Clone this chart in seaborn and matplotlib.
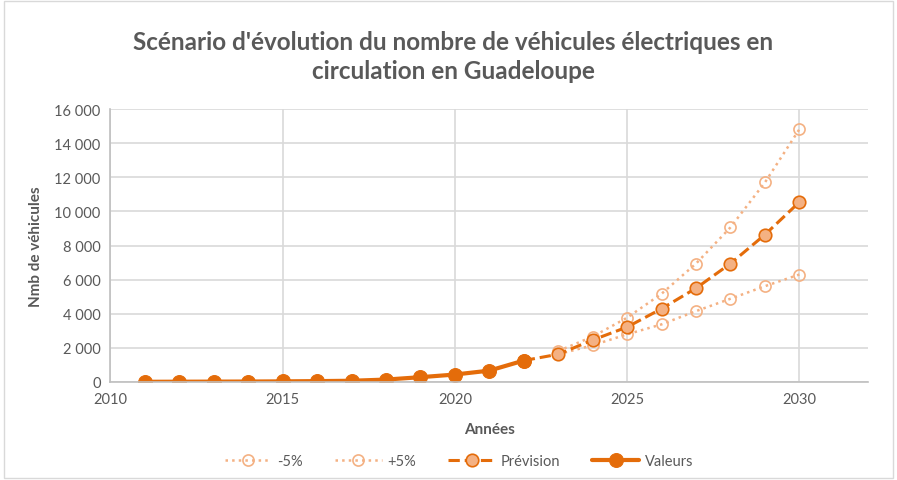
import pandas as pd
import matplotlib.pyplot as plt
import seaborn as sns
from matplotlib.ticker import FuncFormatter
from matplotlib.patches import Rectangle

annees_valeurs = list(range(2011, 2023))
valeurs = [5, 10, 15, 20, 30, 45, 65, 135, 275, 430, 660, 1250]

annees_prev = list(range(2022, 2031))
prevision = [1250, 1620, 2455, 3216, 4292, 5497, 6941, 8637, 10550]

annees_scen = list(range(2023, 2031))
moins5 = [1620, 2146, 2790, 3374, 4152, 4877, 5614, 6298]
plus5 = [1810, 2655, 3766, 5170, 6940, 9065, 11700, 14820]

sns.set_theme(style="whitegrid")
plt.rcParams['font.family'] = ['Lato', 'DejaVu Sans']

fig = plt.figure(figsize=(8.97, 4.81), dpi=100)
ax = fig.add_axes([0.123, 0.204, 0.845, 0.567])

dark = "#E46C0A"
light = "#F4B183"
grey = "#595959"

sns.lineplot(x=annees_scen, y=moins5, ax=ax, color=light, linestyle=":", linewidth=1.8,
             marker="o", markersize=8, markerfacecolor="none", markeredgecolor=light,
             markeredgewidth=1.2, label="-5%")
sns.lineplot(x=annees_scen, y=plus5, ax=ax, color=light, linestyle=":", linewidth=1.8,
             marker="o", markersize=8, markerfacecolor="none", markeredgecolor=light,
             markeredgewidth=1.2, label="+5%")
sns.lineplot(x=annees_prev, y=prevision, ax=ax, color=dark, linestyle="--", linewidth=2.2,
             marker="o", markersize=9, markerfacecolor=light, markeredgecolor=dark,
             markeredgewidth=1.2, label="Prévision")
sns.lineplot(x=annees_valeurs, y=valeurs, ax=ax, color=dark, linestyle="-", linewidth=3,
             marker="o", markersize=10, markerfacecolor=dark, markeredgecolor=dark,
             label="Valeurs")

ax.set_xlim(2010, 2032)
ax.set_ylim(0, 16000)
ax.set_xticks([2010, 2015, 2020, 2025, 2030])
ax.set_yticks(range(0, 16001, 2000))
ax.yaxis.set_major_formatter(FuncFormatter(lambda v, p: f"{int(v):,}".replace(",", " ")))
ax.grid(True, color="#D9D9D9", linewidth=1.2)
for s in ["top", "right"]:
    ax.spines[s].set_visible(False)
for s in ["left", "bottom"]:
    ax.spines[s].set_color("#BFBFBF")
    ax.spines[s].set_linewidth(1.2)
ax.tick_params(colors=grey, labelsize=10.5, length=0, pad=7)

ax.set_xlabel("Années", fontsize=11, fontweight="bold", color=grey, labelpad=12)
ax.set_ylabel("Nmb de véhicules", fontsize=11, fontweight="bold", color=grey, labelpad=8)

fig.suptitle("Scénario d'évolution du nombre de véhicules électriques en\ncirculation en Guadeloupe",
             x=0.505, y=0.935, fontsize=17.5, fontweight="bold", color=grey, linespacing=1.3)

ax.legend(loc="upper center", bbox_to_anchor=(0.46, -0.215), ncol=4, frameon=False,
          fontsize=10.5, labelcolor=grey, handlelength=3.2, handletextpad=0.4,
          columnspacing=2.2)

fig.patches.append(Rectangle((0.004, 0.004), 0.992, 0.992, transform=fig.transFigure,
                             fill=False, edgecolor="#D9D9D9", linewidth=1))

fig.savefig("out.png", dpi=100)
